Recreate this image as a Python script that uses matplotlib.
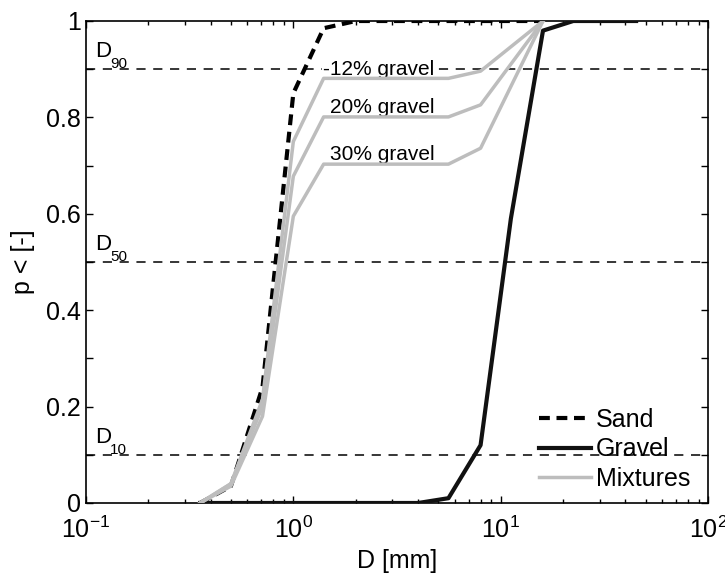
import matplotlib
matplotlib.use('Agg')
import matplotlib.pyplot as plt
from matplotlib.ticker import MultipleLocator, LogLocator, NullFormatter

plt.rcParams['font.family'] = ['Liberation Sans', 'DejaVu Sans']
plt.rcParams['mathtext.fontset'] = 'custom'
plt.rcParams['mathtext.rm'] = 'Liberation Sans'
plt.rcParams['mathtext.it'] = 'Liberation Sans'

# sieve sizes [mm] and cumulative fractions
sand_d = [0.355, 0.5, 0.71, 1.0, 1.4, 2.0, 2.8, 4.0, 5.6, 8.0, 11.2, 16.0]
sand_p = [0.0, 0.035, 0.24, 0.85, 0.985, 1.0, 1.0, 1.0, 1.0, 1.0, 1.0, 1.0]

gravel_d = [0.355, 0.5, 0.71, 1.0, 1.4, 2.0, 2.8, 4.0, 5.6, 8.0, 11.2, 16.0, 22.4, 31.5, 45.0]
gravel_p = [0.0, 0.0, 0.0, 0.0, 0.0, 0.0, 0.0, 0.0, 0.01, 0.12, 0.59, 0.98, 1.0, 1.0, 1.0]

mix_d = [0.355, 0.5, 0.71, 1.0, 1.4, 2.0, 2.8, 4.0, 5.6, 8.0, 16.0]
mix12_p = [0.0, 0.04, 0.215, 0.75, 0.881, 0.881, 0.881, 0.881, 0.881, 0.896, 1.0]
mix20_p = [0.0, 0.04, 0.20, 0.678, 0.801, 0.801, 0.801, 0.801, 0.801, 0.826, 1.0]
mix30_p = [0.0, 0.035, 0.18, 0.595, 0.703, 0.703, 0.703, 0.703, 0.703, 0.736, 1.0]

mix_labels = ['-12% gravel', '20% gravel', '30% gravel']
mix_label_x = [1.39, 1.5, 1.5]
mix_label_y = [0.889, 0.809, 0.712]

d_levels = [0.1, 0.5, 0.9]
d_names = ['10', '50', '90']

grey = '#bdbdbd'

fig = plt.figure(figsize=(7.25, 5.74), dpi=100)
ax = fig.add_axes([86/725, 71/574, 622/725, 482/574])

for lev, nm in zip(d_levels, d_names):
    ax.plot([0.1, 100], [lev, lev], color='k', lw=1.1, dashes=(6, 5), zorder=1)
    ax.text(0.1105, lev + 0.025, 'D', fontsize=16, ha='left', va='baseline')
    ax.text(0.1306, lev + 0.002, nm, fontsize=11, ha='left', va='baseline')

ax.plot(sand_d, sand_p, color='k', lw=3, dashes=(2.6, 1.6), label='Sand', zorder=3)
ax.plot(gravel_d, gravel_p, color='#111111', lw=3, label='Gravel', zorder=3)
ax.plot(mix_d, mix12_p, color=grey, lw=2.5, label='Mixtures', zorder=3)
ax.plot(mix_d, mix20_p, color=grey, lw=2.5, zorder=3)
ax.plot(mix_d, mix30_p, color=grey, lw=2.5, zorder=3)

# white box hides the D90 dashes behind the label, drawn under the curves
for lab, xx, yy in zip(mix_labels, mix_label_x, mix_label_y):
    ax.text(xx, yy, lab, fontsize=15, ha='left', va='baseline', zorder=2,
            bbox=dict(facecolor='white', edgecolor='none', pad=0.5))

ax.set_xscale('log')
ax.set_xlim(0.1, 100)
ax.set_ylim(0, 1)
ax.xaxis.set_major_locator(LogLocator(base=10, numticks=10))
ax.xaxis.set_minor_locator(LogLocator(base=10, subs=range(2, 10), numticks=20))
ax.xaxis.set_minor_formatter(NullFormatter())
ax.yaxis.set_minor_locator(MultipleLocator(0.1))
ax.set_yticks([0, 0.2, 0.4, 0.6, 0.8, 1.0])
ax.set_yticklabels(['0', '0.2', '0.4', '0.6', '0.8', '1'])

ax.tick_params(which='both', direction='in', top=True, right=True, labelsize=18, width=1)
ax.tick_params(which='major', length=5)
ax.tick_params(which='minor', length=3)
ax.tick_params(axis='y', which='minor', length=5)
ax.tick_params(axis='x', pad=10)
for s in ax.spines.values():
    s.set_linewidth(1.2)

ax.set_xlabel('D [mm]', fontsize=18, labelpad=4)
ax.set_ylabel('p < [-]', fontsize=18, labelpad=8)

ax.legend(loc='lower right', bbox_to_anchor=(1.0, -0.011), frameon=False, fontsize=18,
          handlelength=2.1, handletextpad=0.2, labelspacing=0.22, borderaxespad=0.3)

fig.savefig('out.png', dpi=100)
